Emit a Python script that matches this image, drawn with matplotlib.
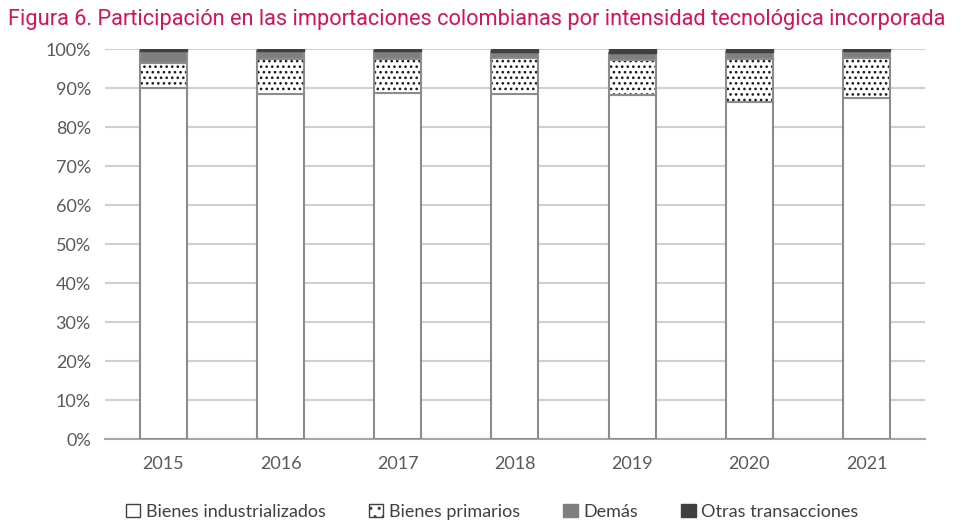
import numpy as np
import matplotlib.pyplot as plt
import matplotlib as mpl
from matplotlib.patches import Patch

# Datos (participación %)
anios = ['2015', '2016', '2017', '2018', '2019', '2020', '2021']
industrializados = [90.2, 88.7, 88.9, 88.6, 88.2, 86.5, 87.5]
primarios = [6.4, 8.9, 8.6, 9.1, 9.2, 11.1, 10.3]
demas = [3.0, 1.9, 2.0, 1.6, 1.8, 1.7, 1.8]
otras = [0.4, 0.5, 0.5, 0.7, 0.8, 0.7, 0.4]

mpl.rcParams['font.family'] = ['Lato', 'DejaVu Sans']
mpl.rcParams['hatch.linewidth'] = 1.1

fig = plt.figure(figsize=(9.61, 5.21), dpi=100)
ax = fig.add_axes([0.109, 0.157, 0.8536, 0.748])

x = np.arange(len(anios))
ancho = 0.4
borde = '#8c8c8c'

ind = np.array(industrializados)
pri = np.array(primarios)
dem = np.array(demas)
otr = np.array(otras)

ax.bar(x, ind, ancho, color='white', edgecolor=borde, linewidth=1.5, zorder=3)
# puntos del relleno (hatch oscuro) y luego el borde gris
ax.bar(x, pri, ancho, bottom=ind, color='white', edgecolor='#1a1a1a', linewidth=0,
       hatch='...', zorder=3)
ax.bar(x, pri, ancho, bottom=ind, fill=False, edgecolor=borde, linewidth=1.5, zorder=4)
ax.bar(x, dem, ancho, bottom=ind + pri, color='#7f7f7f', edgecolor=borde, linewidth=1.5, zorder=3)
ax.bar(x, otr, ancho, bottom=ind + pri + dem, color='#404040', edgecolor='#404040',
       linewidth=1.0, zorder=3)

ax.set_xlim(-0.5, len(anios) - 0.5)
ax.set_ylim(0, 100)
ax.set_yticks(np.arange(0, 101, 10))
ax.set_yticklabels([f'{v}%' for v in range(0, 101, 10)])
ax.set_xticks(x)
ax.set_xticklabels(anios)
ax.grid(axis='y', color='#d0d0d0', linewidth=1.5, zorder=0)
for s in ['top', 'right', 'left']:
    ax.spines[s].set_visible(False)
ax.spines['bottom'].set_color('#a6a6a6')
ax.spines['bottom'].set_linewidth(1.5)
ax.tick_params(axis='both', length=0, labelsize=13, colors='#595959', pad=10)
ax.tick_params(axis='x', pad=12)

fig.text(0.008, 0.962, 'Figura 6. Participación en las importaciones colombianas por intensidad tecnológica incorporada',
         color='#d4145a', fontsize=15.7, family='Roboto', ha='left', va='center')

manijas = [
    Patch(facecolor='white', edgecolor='#404040', linewidth=1.0, label='Bienes industrializados'),
    Patch(facecolor='white', edgecolor='#404040', linewidth=1.0, hatch='..', label='Bienes primarios'),
    Patch(facecolor='#7f7f7f', edgecolor='#7f7f7f', label='Demás'),
    Patch(facecolor='#404040', edgecolor='#404040', label='Otras transacciones'),
]
fig.legend(handles=manijas, loc='center', bbox_to_anchor=(0.512, 0.018), ncol=4, frameon=False,
           fontsize=13, labelcolor='#404040', handlelength=0.8, handleheight=0.8,
           handletextpad=0.3, columnspacing=2.4)

fig.savefig('out.png', dpi=100)
